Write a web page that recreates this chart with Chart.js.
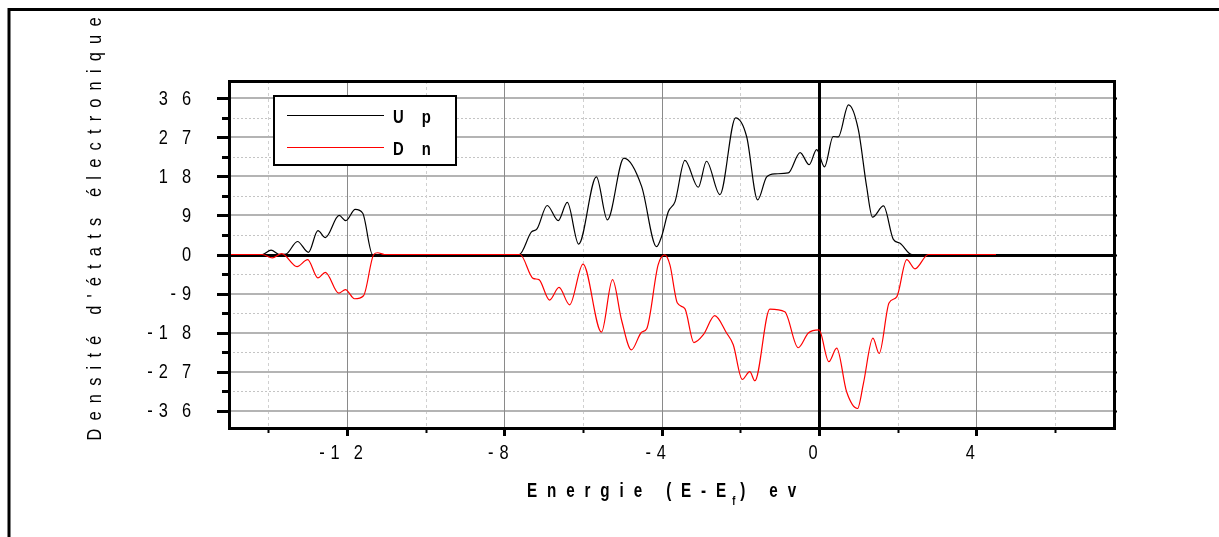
<!DOCTYPE html>
<html>
<head>
<meta charset="utf-8">
<script src="https://cdn.jsdelivr.net/npm/chart.js@4.4.1/dist/chart.umd.min.js"></script>
<style>
  html, body { margin: 0; padding: 0; background: #fff; }
  #wrap { width: 1219px; height: 537px; position: relative; }
</style>
</head>
<body>
<div id="wrap"><canvas id="dosChart"></canvas></div>
<script>
// Densité d'états, spin up / spin down
const energyUp = [-15, -14.15, -13.93, -13.72, -13.55, -13.26, -12.98, -12.74, -12.55, -12.2, -12.03, -11.79, -11.6,
  -11.35, -7.62, -7.31, -7.17, -6.91, -6.63, -6.4, -6.11, -5.66, -5.38, -4.96, -4.51, -4.13, -4.0, -3.83, -3.66,
  -3.41, -3.07, -2.86, -2.52, -2.12, -1.84, -1.56, -1.33, -1.12, -0.78, -0.48, -0.25, -0.06, 0.14, 0.36, 0.49,
  0.75, 1.0, 1.21, 1.36, 1.64, 1.89, 2.06, 2.36, 4.5];
const dosUp = [0, 0, 1.0, 0, 0.1, 3.0, 0.5, 5.5, 3.9, 9.0, 7.8, 10.4, 9.5,
  0, 0, 5.2, 5.9, 11.3, 7.8, 12.0, 2.4, 17.9, 8.0, 22.2, 15.7, 1.8, 4.2, 9.9, 12.2,
  21.7, 15.5, 21.5, 13.8, 31.5, 27.2, 12.6, 17.9, 18.6, 18.8, 23.5, 20.7, 24.2, 20.2, 27.2, 27.1,
  34.5, 28.8, 15.7, 8.6, 11.2, 3.5, 2.6, 0, 0];

const energyDn = [-15, -14.15, -13.9, -13.66, -13.27, -13.0, -12.74, -12.55, -12.21, -12.04, -11.81, -11.58,
  -11.32, -11.22, -11.05, -7.6, -7.27, -7.12, -6.85, -6.61, -6.34, -6.0, -5.53, -5.25, -5.02, -4.77, -4.51,
  -4.38, -4.09, -3.92, -3.79, -3.6, -3.41, -3.18, -2.94, -2.65, -2.35, -2.18, -1.95, -1.76, -1.63, -1.25,
  -0.87, -0.53, -0.27, 0.0, 0.25, 0.45, 0.7, 0.98, 1.13, 1.37, 1.53, 1.78, 1.98, 2.23, 2.44, 2.78, 4.5];
const dosDn = [0, 0, -0.8, 0.2, -2.8, -1.2, -5.4, -4.1, -8.9, -8.1, -10.2, -9.5,
  0, 0.4, 0, 0, -5.5, -5.8, -10.5, -7.6, -11.6, -2.2, -17.9, -5.8, -15.1, -22.0, -17.9,
  -17.1, -2.4, -0.1, -2.4, -11.2, -12.5, -20.3, -18.5, -14.1, -18.1, -20.8, -28.8, -27.0, -29.1, -12.6,
  -13.2, -21.5, -18.1, -17.4, -24.7, -21.6, -31.6, -35.5, -29.7, -19.3, -22.8, -11.2, -9.7, -1.2, -3.3, 0, 0];

const seriesNames = ['Up', 'Dn'];
const seriesColors = ['#000000', '#ff0000'];

const xMajorTicks = [-12, -8, -4, 0, 4];
const xMinorTicks = [-14, -10, -6, -2, 2, 6];
const yMajorTicks = [-36, -27, -18, -9, 0, 9, 18, 27, 36];
const yMinorTicks = [-31.5, -22.5, -13.5, -4.5, 4.5, 13.5, 22.5, 31.5];

const xTitle = ['Energie (E-E', 'f', ') ev'];
const yTitle = "Densité d'états électronique";

const FONT = "'Liberation Sans', Arial, sans-serif";
const SQUEEZE = 0.78; // condensed look, Arial Narrow is not around

function toPoints(xs, ys) {
  return xs.map((x, i) => ({ x: x, y: ys[i] }));
}

// letter-spaced, horizontally squeezed text; gapFn(prevChar) gives the space after a char
function textWidth(ctx, text, gapFn, sx) {
  const chars = [...text];
  let w = 0;
  chars.forEach((ch, i) => {
    w += ctx.measureText(ch).width * sx;
    if (i < chars.length - 1) w += gapFn(ch);
  });
  return w;
}
function drawText(ctx, text, x, y, opts) {
  const sx = opts.sx || SQUEEZE;
  const gapFn = typeof opts.gap === 'function' ? opts.gap : () => (opts.gap || 0);
  const w = textWidth(ctx, text, gapFn, sx);
  let cx = x;
  if (opts.align === 'right') cx = x - w;
  else if (opts.align === 'center') cx = x - w / 2;
  for (const ch of text) {
    ctx.save();
    ctx.translate(cx, y);
    ctx.scale(sx, 1);
    ctx.fillText(ch, 0, 0);
    ctx.restore();
    cx += ctx.measureText(ch).width * sx + gapFn(ch);
  }
  return cx;
}
const tickGap = ch => (ch === '-' ? 6 : 14);

const framePlugin = {
  id: 'originFrame',
  beforeDraw(chart) {
    const ctx = chart.ctx;
    ctx.save();
    ctx.fillStyle = '#fff';
    ctx.fillRect(0, 0, chart.width, chart.height);
    // page frame
    ctx.strokeStyle = '#000';
    ctx.lineWidth = 3;
    ctx.beginPath();
    ctx.moveTo(9, chart.height);
    ctx.lineTo(9, 9.5);
    ctx.lineTo(chart.width, 9.5);
    ctx.stroke();
    ctx.restore();
  },
  beforeDatasetsDraw(chart) {
    const { ctx, chartArea: a, scales: { x, y } } = chart;
    ctx.save();
    // minor grid, dotted
    ctx.lineWidth = 1;
    ctx.setLineDash([2, 2]);
    ctx.strokeStyle = '#c4c4c4';
    yMinorTicks.forEach(v => {
      const py = Math.round(y.getPixelForValue(v)) + 0.5;
      ctx.beginPath(); ctx.moveTo(a.left, py); ctx.lineTo(a.right, py); ctx.stroke();
    });
    ctx.strokeStyle = '#d0d0d0';
    ctx.setLineDash([3, 3]);
    xMinorTicks.forEach(v => {
      if (v < x.min || v > x.max) return;
      const px = Math.round(x.getPixelForValue(v)) + 0.5;
      ctx.beginPath(); ctx.moveTo(px, a.top); ctx.lineTo(px, a.bottom); ctx.stroke();
    });
    ctx.setLineDash([]);
    // major grid
    ctx.strokeStyle = '#b4b4b4';
    ctx.lineWidth = 2;
    yMajorTicks.forEach(v => {
      if (v === 0) return;
      const py = Math.round(y.getPixelForValue(v));
      ctx.beginPath(); ctx.moveTo(a.left, py); ctx.lineTo(a.right, py); ctx.stroke();
    });
    ctx.strokeStyle = '#8a8a8a';
    ctx.lineWidth = 1;
    xMajorTicks.forEach(v => {
      if (v === 0) return;
      const px = Math.round(x.getPixelForValue(v)) + 0.5;
      ctx.beginPath(); ctx.moveTo(px, a.top); ctx.lineTo(px, a.bottom); ctx.stroke();
    });
    // zero lines
    ctx.strokeStyle = '#000';
    ctx.lineWidth = 3;
    const y0 = Math.round(y.getPixelForValue(0)) + 0.5;
    const x0 = Math.round(x.getPixelForValue(0)) + 0.5;
    ctx.beginPath(); ctx.moveTo(a.left, y0); ctx.lineTo(a.right, y0); ctx.stroke();
    ctx.beginPath(); ctx.moveTo(x0, a.top); ctx.lineTo(x0, a.bottom); ctx.stroke();
    ctx.restore();
  },
  afterDatasetsDraw(chart) {
    const { ctx, chartArea: a, scales: { x, y } } = chart;
    ctx.save();
    ctx.strokeStyle = '#000';
    ctx.fillStyle = '#000';
    // plot box
    ctx.lineWidth = 3;
    ctx.strokeRect(a.left + 0.5, a.top + 0.5, a.right - a.left, a.bottom - a.top);

    // tick marks: left and bottom outward, tiny ones on the right
    ctx.lineWidth = 3;
    yMajorTicks.forEach(v => {
      const py = Math.round(y.getPixelForValue(v)) + 0.5;
      ctx.beginPath(); ctx.moveTo(a.left - 12, py); ctx.lineTo(a.left, py); ctx.stroke();
    });
    yMinorTicks.forEach(v => {
      const py = Math.round(y.getPixelForValue(v)) + 0.5;
      ctx.beginPath(); ctx.moveTo(a.left - 7, py); ctx.lineTo(a.left, py); ctx.stroke();
    });
    xMajorTicks.forEach(v => {
      const px = Math.round(x.getPixelForValue(v)) + 0.5;
      ctx.beginPath(); ctx.moveTo(px, a.bottom); ctx.lineTo(px, a.bottom + 8); ctx.stroke();
    });
    ctx.lineWidth = 2;
    xMinorTicks.forEach(v => {
      if (v < x.min || v > x.max) return;
      const px = Math.round(x.getPixelForValue(v)) + 0.5;
      ctx.beginPath(); ctx.moveTo(px, a.bottom); ctx.lineTo(px, a.bottom + 5); ctx.stroke();
    });
    yMajorTicks.concat(yMinorTicks).forEach(v => {
      const py = Math.round(y.getPixelForValue(v)) + 0.5;
      ctx.beginPath(); ctx.moveTo(a.right, py); ctx.lineTo(a.right + 3, py); ctx.stroke();
    });

    // tick labels
    ctx.font = '21px ' + FONT;
    ctx.textBaseline = 'middle';
    ctx.textAlign = 'left';
    yMajorTicks.forEach(v => {
      drawText(ctx, String(v), a.left - 38, y.getPixelForValue(v) + 1, { align: 'right', gap: tickGap });
    });
    xMajorTicks.forEach(v => {
      drawText(ctx, String(v), x.getPixelForValue(v) - 6, a.bottom + 25, { align: 'center', gap: tickGap });
    });

    // legend box
    const lx = a.left + 45, ly = a.top + 15, lw = 182, lh = 69;
    ctx.fillStyle = '#fff';
    ctx.fillRect(lx, ly, lw, lh);
    ctx.lineWidth = 2;
    ctx.strokeRect(lx, ly, lw, lh);
    ctx.textBaseline = 'alphabetic';
    chart.data.datasets.forEach((ds, i) => {
      const rowY = ly + 19 + i * 32;
      ctx.strokeStyle = ds.borderColor;
      ctx.lineWidth = 1.2;
      ctx.beginPath(); ctx.moveTo(lx + 13, rowY + 0.5); ctx.lineTo(lx + 110, rowY + 0.5); ctx.stroke();
      ctx.fillStyle = '#000';
      ctx.font = 'bold 19px ' + FONT;
      drawText(ctx, ds.label, lx + 119, rowY + 8, { gap: 18 });
    });

    // x axis title with subscript f, spread over 278 px
    ctx.fillStyle = '#000';
    ctx.font = 'bold 19.5px ' + FONT;
    const plainMain = textWidth(ctx, xTitle[0], () => 0, SQUEEZE) + textWidth(ctx, xTitle[2], () => 0, SQUEEZE);
    ctx.font = 'bold 12px ' + FONT;
    const subW = ctx.measureText(xTitle[1]).width * SQUEEZE;
    const nGaps = [...xTitle[0]].length + [...xTitle[2]].length;
    const tGap = (278 - plainMain - subW) / nGaps;
    let cx = 527;
    const base = 497;
    ctx.font = 'bold 19.5px ' + FONT;
    cx = drawText(ctx, xTitle[0], cx, base, { gap: tGap });
    ctx.font = 'bold 12px ' + FONT;
    cx = drawText(ctx, xTitle[1], cx - tGap / 2 + 1, base + 8, { gap: 0 });
    ctx.font = 'bold 19.5px ' + FONT;
    drawText(ctx, xTitle[2], cx + tGap / 2, base, { gap: tGap });

    // y axis title, rotated, spread over 423 px
    ctx.save();
    ctx.translate(101, 229);
    ctx.rotate(-Math.PI / 2);
    ctx.font = '20px ' + FONT;
    const n = [...yTitle].length;
    const plainY = textWidth(ctx, yTitle, () => 0, 0.82);
    const yGap = (423 - plainY) / (n - 1);
    drawText(ctx, yTitle, 0, 0, { align: 'center', gap: yGap, sx: 0.82 });
    ctx.restore();

    ctx.restore();
  }
};

new Chart(document.getElementById('dosChart'), {
  type: 'scatter',
  data: {
    datasets: [
      {
        label: seriesNames[0],
        data: toPoints(energyUp, dosUp),
        borderColor: seriesColors[0],
        borderWidth: 1.2,
        showLine: true,
        pointRadius: 0,
        cubicInterpolationMode: 'monotone',
        order: 1
      },
      {
        label: seriesNames[1],
        data: toPoints(energyDn, dosDn),
        borderColor: seriesColors[1],
        borderWidth: 1.2,
        showLine: true,
        pointRadius: 0,
        cubicInterpolationMode: 'monotone',
        order: 0
      }
    ]
  },
  options: {
    responsive: true,
    maintainAspectRatio: false,
    animation: false,
    layout: { padding: { left: 0, top: 81, right: 105, bottom: 0 } },
    plugins: {
      legend: { display: false },
      tooltip: { enabled: false }
    },
    scales: {
      x: {
        type: 'linear',
        min: -15,
        max: 7.5,
        afterBuildTicks: s => { s.ticks = xMajorTicks.map(v => ({ value: v })); },
        afterFit: s => { s.height = 109; },
        grid: { display: false, drawTicks: false },
        border: { display: false },
        ticks: { display: false }
      },
      y: {
        type: 'linear',
        min: -40,
        max: 40,
        afterBuildTicks: s => { s.ticks = yMajorTicks.map(v => ({ value: v })); },
        afterFit: s => { s.width = 229; },
        grid: { display: false, drawTicks: false },
        border: { display: false },
        ticks: { display: false }
      }
    }
  },
  plugins: [framePlugin]
});
</script>
</body>
</html>
